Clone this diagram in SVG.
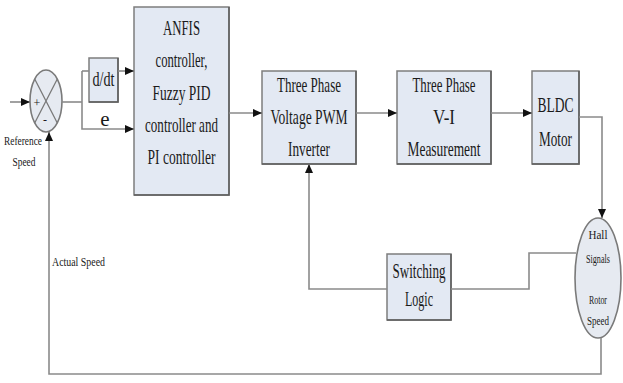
<svg xmlns="http://www.w3.org/2000/svg" width="623" height="383" viewBox="0 0 623 383">
  <style>
    .blk { fill: #e3e9f3; stroke: #7d7d7d; stroke-width: 1.5; }
    .shd { fill: none; stroke: #5e5e5e; stroke-width: 1.5; }
    .lbl { font-family: "Liberation Serif", "Times New Roman", serif; font-size: 21px; fill: #1a1a1a; text-anchor: middle; }
    .sm { font-family: "Liberation Serif", "Times New Roman", serif; font-size: 12px; fill: #1a1a1a; text-anchor: middle; }
    .wire { fill: none; stroke: #8a8a8a; stroke-width: 1.6; }
    .arr { marker-end: url(#head); }
  </style>
  <defs>
    <marker id="head" markerUnits="userSpaceOnUse" markerWidth="9" markerHeight="8" refX="9" refY="4" orient="auto">
      <path d="M0,0 L9,4 L0,8 Z" fill="#111"/>
    </marker>
  </defs>
  <rect width="623" height="383" fill="#ffffff"/>

  <!-- summing junction -->
  <g id="sum">
    <ellipse cx="46" cy="101" rx="16" ry="31" fill="#e6eaf1" stroke="#7a7a7a" stroke-width="1.6"/>
    <path d="M34.7,79 L57.3,123 M57.3,79 L34.7,123" stroke="#7a7a7a" stroke-width="1.3" fill="none"/>
    <text x="37" y="107" class="sm" font-size="14">+</text>
    <text x="45" y="124" class="sm" font-size="14">-</text>
    <text x="23" y="145" class="sm" textLength="38" lengthAdjust="spacingAndGlyphs">Reference</text>
    <text x="24" y="166" class="sm" textLength="23" lengthAdjust="spacingAndGlyphs">Speed</text>
  </g>

  <!-- derivative block -->
  <g id="ddt">
    <rect x="89" y="58" width="29" height="44" class="blk"/>
    <path d="M89,102 H118 V58" class="shd"/>
    <text x="103.5" y="86" class="lbl" font-size="18" textLength="22" lengthAdjust="spacingAndGlyphs">d/dt</text>
    <text x="105" y="126" class="lbl" font-size="19">e</text>
  </g>

  <!-- controller block -->
  <g id="controller">
    <rect x="134" y="7" width="95" height="188" class="blk"/>
    <path d="M134,195 H229 V7" class="shd"/>
    <text x="181.5" y="35" class="lbl" textLength="37" lengthAdjust="spacingAndGlyphs">ANFIS</text>
    <text x="181.5" y="67" class="lbl" textLength="52" lengthAdjust="spacingAndGlyphs">controller,</text>
    <text x="181.5" y="100" class="lbl" textLength="58" lengthAdjust="spacingAndGlyphs">Fuzzy PID</text>
    <text x="181.5" y="132" class="lbl" textLength="73" lengthAdjust="spacingAndGlyphs">controller and</text>
    <text x="181.5" y="164" class="lbl" textLength="68" lengthAdjust="spacingAndGlyphs">PI controller</text>
  </g>

  <!-- inverter block -->
  <g id="inverter">
    <rect x="262" y="71" width="94" height="93" class="blk"/>
    <path d="M262,164 H356 V71" class="shd"/>
    <text x="309" y="92" class="lbl" textLength="64" lengthAdjust="spacingAndGlyphs">Three Phase</text>
    <text x="309" y="124" class="lbl" textLength="77" lengthAdjust="spacingAndGlyphs">Voltage PWM</text>
    <text x="309" y="156" class="lbl" textLength="42" lengthAdjust="spacingAndGlyphs">Inverter</text>
  </g>

  <!-- measurement block -->
  <g id="measurement">
    <rect x="397" y="71" width="94" height="93" class="blk"/>
    <path d="M397,164 H491 V71" class="shd"/>
    <text x="444" y="92" class="lbl" textLength="63" lengthAdjust="spacingAndGlyphs">Three Phase</text>
    <text x="444" y="124" class="lbl" textLength="22" lengthAdjust="spacingAndGlyphs">V-I</text>
    <text x="444" y="156" class="lbl" textLength="73" lengthAdjust="spacingAndGlyphs">Measurement</text>
  </g>

  <!-- motor block -->
  <g id="motor">
    <rect x="532" y="71" width="47" height="93" class="blk"/>
    <path d="M532,164 H579 V71" class="shd"/>
    <text x="555.5" y="112" class="lbl" textLength="36" lengthAdjust="spacingAndGlyphs">BLDC</text>
    <text x="555.5" y="146" class="lbl" textLength="33" lengthAdjust="spacingAndGlyphs">Motor</text>
  </g>

  <!-- sensor ellipse -->
  <g id="sensor">
    <ellipse cx="598" cy="278" rx="23" ry="60" fill="#e6eaf1" stroke="#7a7a7a" stroke-width="1.6"/>
    <text x="598" y="239" class="sm" font-size="13" textLength="19" lengthAdjust="spacingAndGlyphs">Hall</text>
    <text x="598" y="263" class="sm" font-size="13" textLength="24" lengthAdjust="spacingAndGlyphs">Signals</text>
    <text x="598" y="304" class="sm" font-size="13" textLength="18" lengthAdjust="spacingAndGlyphs">Rotor</text>
    <text x="598" y="325" class="sm" font-size="13" textLength="22" lengthAdjust="spacingAndGlyphs">Speed</text>
  </g>

  <!-- switching logic block -->
  <g id="switching">
    <rect x="387" y="254" width="64" height="66" class="blk"/>
    <path d="M387,320 H451 V254" class="shd"/>
    <text x="419" y="278" class="lbl" textLength="53" lengthAdjust="spacingAndGlyphs">Switching</text>
    <text x="419" y="306" class="lbl" textLength="28" lengthAdjust="spacingAndGlyphs">Logic</text>
  </g>

  <g id="feedback-label">
    <text x="52" y="266" class="sm" font-size="11" textLength="53" lengthAdjust="spacingAndGlyphs" style="text-anchor:start">Actual Speed</text>
  </g>

  <!-- connectors -->
  <g id="connectors">
    <path class="wire arr" d="M10,102 H30"/>
    <path class="wire" d="M62,102 H82"/>
    <path class="wire" d="M82,71 H89"/>
    <path class="wire arr" d="M82,71 V129 H134"/>
    <path class="wire arr" d="M118,71 H134"/>
    <path class="wire arr" d="M229,113 H262"/>
    <path class="wire arr" d="M356,113 H397"/>
    <path class="wire arr" d="M491,113 H532"/>
    <path class="wire arr" d="M579,117 H602 V218"/>
    <path class="wire" d="M576,253 H529 V289 H451"/>
    <path class="wire arr" d="M387,289 H309 V164"/>
    <path class="wire arr" d="M601,338 V374 H49 V132"/>
  </g>
</svg>
